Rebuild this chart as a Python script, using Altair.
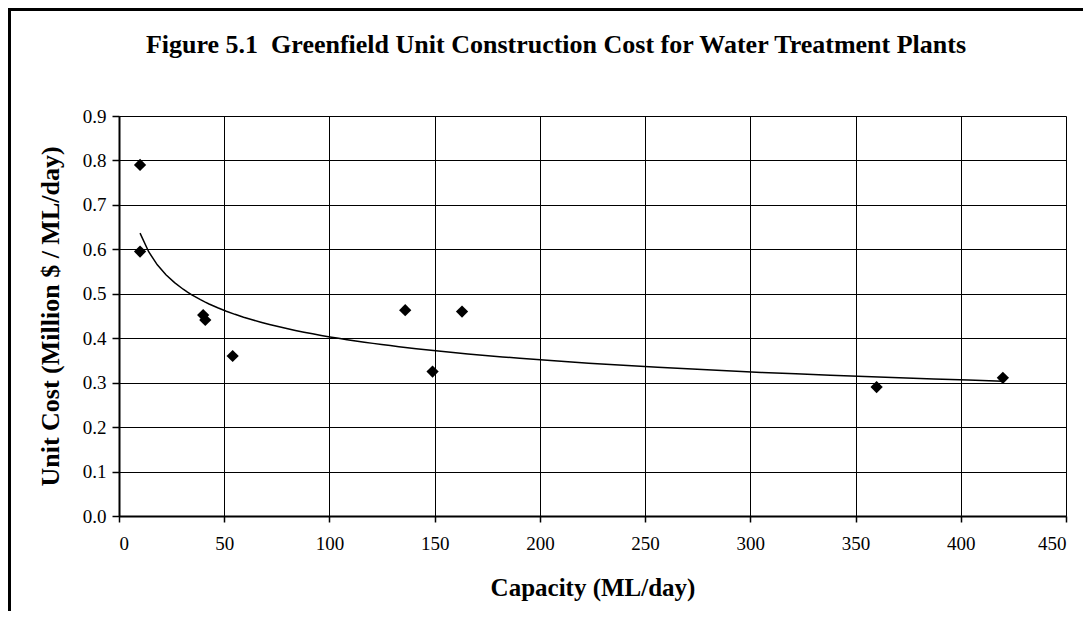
import altair as alt
import pandas as pd

capacity = [10, 10, 40, 41, 54, 136, 163, 149, 360, 420]
unit_cost = [0.79, 0.595, 0.452, 0.441, 0.36, 0.463, 0.46, 0.325, 0.29, 0.311]
title_text = "Figure 5.1\u00a0 Greenfield Unit Construction Cost for Water Treatment Plants"

df = pd.DataFrame({"capacity": capacity, "cost": unit_cost})
title_df = pd.DataFrame({"t": [title_text]})

FONT = "Liberation Serif"

xscale = alt.Scale(domain=[0, 450], nice=False, zero=True)
yscale = alt.Scale(domain=[0, 0.9], nice=False, zero=True)

xaxis = alt.Axis(
    title="Capacity (ML/day)", values=list(range(0, 451, 50)), format="d",
    grid=True, gridColor="black", gridWidth=1, gridOpacity=1,
    domainColor="black", domainWidth=2, tickColor="black", tickWidth=1.5, tickSize=6,
    labelFont=FONT, labelFontSize=19, labelColor="black", labelPadding=12,
    titleFont=FONT, titleFontSize=25, titleFontWeight="bold", titleColor="black", titlePadding=22,
)
yaxis = alt.Axis(
    title="Unit Cost (Million $ / ML/day)", values=[i / 10 for i in range(0, 10)], format=".1f",
    grid=True, gridColor="black", gridWidth=1, gridOpacity=1,
    domainColor="black", domainWidth=2, tickColor="black", tickWidth=1.5, tickSize=7,
    labelFont=FONT, labelFontSize=19, labelColor="black", labelPadding=6,
    titleFont=FONT, titleFontSize=26, titleFontWeight="bold", titleColor="black", titlePadding=19,
)

points = alt.Chart(df).mark_point(shape="diamond", filled=True, color="black", size=150, opacity=1).encode(
    x=alt.X("capacity:Q", scale=xscale, axis=xaxis),
    y=alt.Y("cost:Q", scale=yscale, axis=yaxis),
)

trend = alt.Chart(df).transform_regression("capacity", "cost", method="pow").mark_line(
    color="black", strokeWidth=1.5
).encode(
    x=alt.X("capacity:Q", scale=xscale),
    y=alt.Y("cost:Q", scale=yscale),
)

frame = alt.Chart(title_df).mark_rect(fill=None, stroke="black", strokeWidth=3).encode(
    x=alt.value(-109.5), y=alt.value(-106.5), x2=alt.value(1100), y2=alt.value(700)
)

title = alt.Chart(title_df).mark_text(
    font=FONT, fontSize=26, fontWeight="bold", color="black", align="center", baseline="alphabetic"
).encode(x=alt.value(437), y=alt.value(-63), text="t:N")

chart = alt.layer(trend, points, frame, title).properties(
    width=947,
    height=400,
    autosize=alt.AutoSizeParams(type="none"),
    padding={"left": 111, "top": 108, "right": 17, "bottom": 95},
).configure_view(stroke="#808080", strokeWidth=2).configure(background="white")

chart.save("out.html", embed_options={"renderer": "svg", "actions": False})
